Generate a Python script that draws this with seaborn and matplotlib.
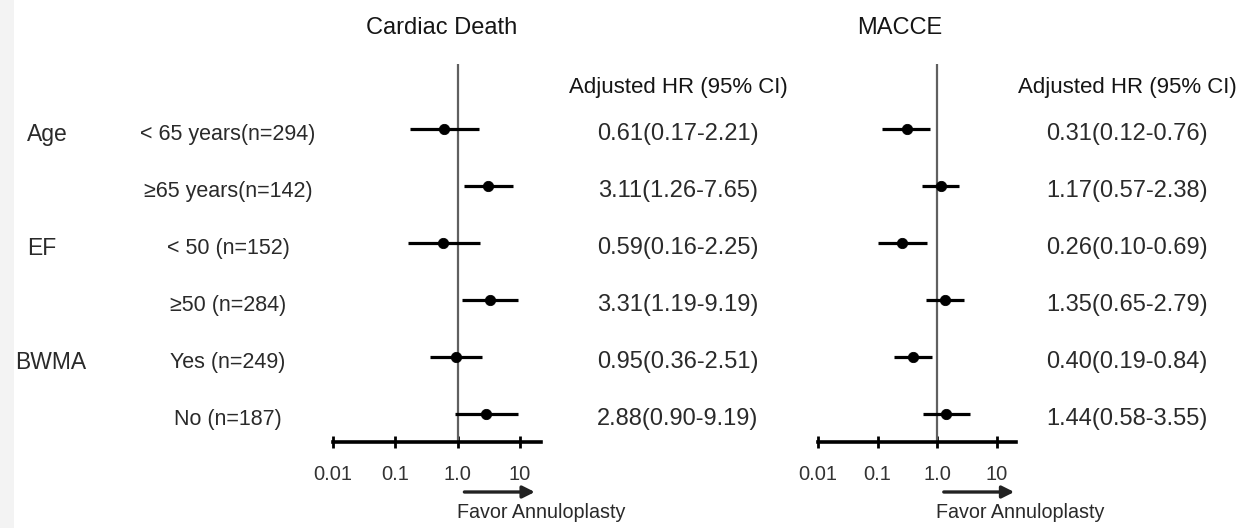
import numpy as np
import pandas as pd
import matplotlib
matplotlib.use("Agg")
import matplotlib.pyplot as plt
import matplotlib.transforms as mtransforms
from matplotlib.patches import Rectangle
import seaborn as sns

# ---------------- data ----------------
groups = ["Age", "", "EF", "", "BWMA", ""]
subgroups = ["< 65 years(n=294)", "\u226565 years(n=142)", "< 50 (n=152)",
             "\u226550 (n=284)", "Yes (n=249)", "No (n=187)"]
cd_hr = [0.61, 3.11, 0.59, 3.31, 0.95, 2.88]
cd_lo = [0.17, 1.26, 0.16, 1.19, 0.36, 0.90]
cd_hi = [2.21, 7.65, 2.25, 9.19, 2.51, 9.19]
mc_hr = [0.31, 1.17, 0.26, 1.35, 0.40, 1.44]
mc_lo = [0.12, 0.57, 0.10, 0.65, 0.19, 0.58]
mc_hi = [0.76, 2.38, 0.69, 2.79, 0.84, 3.55]
tick_values = [0.01, 0.1, 1.0, 10]
tick_labels = ["0.01", "0.1", "1.0", "10"]
panel_titles = ["Cardiac Death", "MACCE"]
col_header = "Adjusted HR (95% CI)"
favor_text = "Favor Annuloplasty"

# ---------------- style ----------------
sns.set_theme(style="white")
plt.rcParams["font.family"] = ["Liberation Sans", "DejaVu Sans"]

W, H = 1238, 528
fig = plt.figure(figsize=(W / 100, H / 100), dpi=100)
fig.patch.set_facecolor("white")


def fx(px):
    return px / W


def fy(py):
    return 1 - py / H


top_px, bot_px = 64, 442
row0_px, row_step = 128.5, 57.0
ylim = ((bot_px - row0_px) / row_step, (top_px - row0_px) / row_step)

panels = [
    dict(left=333, right=541, decade=62.3, hr=cd_hr, lo=cd_lo, hi=cd_hi,
         title_x=442, val_x=678),
    dict(left=818, right=1016, decade=59.5, hr=mc_hr, lo=mc_lo, hi=mc_hi,
         title_x=900, val_x=1127),
]

txt_col = "#2a2a2a"
axes = []
for i, p in enumerate(panels):
    ax = fig.add_axes([fx(p["left"]), fy(bot_px), fx(p["right"] - p["left"]),
                       (bot_px - top_px) / H])
    ax.set_facecolor("none")
    ax.set_xscale("log")
    xmax = 10 ** (-2 + (p["right"] - p["left"]) / p["decade"])
    ax.set_xlim(0.01, xmax)
    ax.set_ylim(*ylim)
    df = pd.DataFrame({"row": np.arange(len(p["hr"])), "hr": p["hr"],
                       "lo": p["lo"], "hi": p["hi"]})
    ax.hlines(df["row"], df["lo"], df["hi"], color="black", lw=2.3, zorder=3)
    sns.scatterplot(data=df, x="hr", y="row", ax=ax, color="black", s=55,
                    edgecolor="black", zorder=4, legend=False)
    ax.axvline(1.0, color="#606060", lw=1.6, zorder=2)
    for s in ["top", "right", "left"]:
        ax.spines[s].set_visible(False)
    ax.spines["bottom"].set_color("black")
    ax.spines["bottom"].set_linewidth(2.6)
    ax.set_xticks(tick_values)
    ax.set_xticklabels(tick_labels)
    ax.xaxis.set_minor_locator(matplotlib.ticker.NullLocator())
    ax.tick_params(axis="x", which="major", direction="inout", length=9,
                   width=2, color="black", labelsize=14.5, labelcolor="#333333",
                   pad=12, bottom=True)
    ax.set_yticks([])
    ax.set_xlabel("")
    ax.set_ylabel("")
    axes.append(ax)

    # title
    fig.text(fx(p["title_x"]), fy(28), panel_titles[i], ha="center",
             va="center", fontsize=17, color="#151515")
    # column header
    fig.text(fx(p["val_x"]), fy(87), col_header, ha="center", va="center",
             fontsize=16, color="#151515")
    # values
    trans = mtransforms.blended_transform_factory(fig.transFigure, ax.transData)
    for r in range(len(p["hr"])):
        txt = f"{p['hr'][r]:.2f}({p['lo'][r]:.2f}-{p['hi'][r]:.2f})"
        fig.text(fx(p["val_x"]), r + 0.1, txt, transform=trans, ha="center",
                 va="center", fontsize=17, color=txt_col)
    # arrow and favor text
    fig.patches.append(matplotlib.patches.FancyArrowPatch(
        (fx(p["left"] + 2 * p["decade"] + 4), fy(492)),
        (fx(p["left"] + 2 * p["decade"] + 80), fy(492)),
        transform=fig.transFigure, arrowstyle="-|>", mutation_scale=18,
        color="#222222", lw=2.4))
    fig.text(fx(p["left"] + 2 * p["decade"] - 1), fy(513), favor_text,
             ha="left", va="center", fontsize=14.2, color=txt_col)

# left labels
trans0 = mtransforms.blended_transform_factory(fig.transFigure, axes[0].transData)
for r, (g, sg) in enumerate(zip(groups, subgroups)):
    if g:
        x0 = 15 if g == "BWMA" else 27
        fig.text(fx(x0), r + 0.1, g, transform=trans0, ha="left", va="center",
                 fontsize=16.5, color=txt_col)
    fig.text(fx(228), r + 0.1, sg, transform=trans0, ha="center", va="center",
             fontsize=15.5, color=txt_col)

# light strip at the left edge
fig.patches.append(Rectangle((0, 0), fx(14), 1, transform=fig.transFigure,
                             facecolor="#f3f3f3", edgecolor="none", zorder=10))

fig.savefig("out.png", dpi=100)
